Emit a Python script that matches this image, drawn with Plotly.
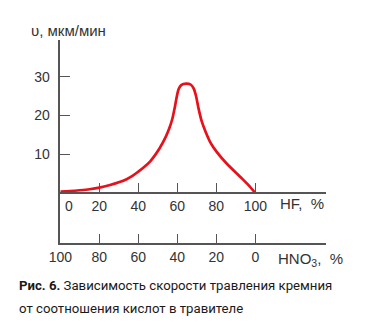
import plotly.graph_objects as go

# Curve: HF content (%) vs etch rate (um/min)
hf = [0, 5, 10, 15, 20, 25.5, 30, 34, 37, 40, 43, 46, 48.5, 51, 54, 56, 57.5, 58.8, 59.8, 60.7, 62, 64.5, 67, 68.3, 69.6, 70.8, 72.5, 74.5, 77, 80.2, 85.3, 92.2, 96.4, 100]
rate = [0.35, 0.49, 0.7, 0.97, 1.37, 2.05, 2.75, 3.55, 4.4, 5.5, 6.7, 8.1, 9.7, 11.6, 14.4, 16.8, 19.2, 22.3, 25, 26.8, 27.8, 28.2, 27.9, 27, 25, 22, 18.5, 15.8, 13, 10.6, 7.6, 4.2, 2.1, 0]

hf_ticks = [20, 40, 60, 80, 100]
hno3_ticks = [100, 80, 60, 40, 20, 0]
y_ticks = [10, 20, 30]

W, H = 372, 334
x0px, xendpx, px_per_unit_x = 60.3, 326.0, 1.95
y0px, px_per_unit_y, ytop, ybot = 193.0, 3.88, 40.0, 243.0

xr = [0, (xendpx - x0px) / px_per_unit_x]
yr = [-(ybot - y0px) / px_per_unit_y, (y0px - ytop) / px_per_unit_y]

axis_col = "#555555"
txt_col = "#333333"
tick_font = dict(family="Liberation Sans, Arial, sans-serif", size=14, color=txt_col)

fig = go.Figure()
fig.add_trace(go.Scatter(
    x=hf, y=rate, mode="lines",
    line=dict(color="#e8101a", width=2.7, shape="spline", smoothing=0.8),
    hoverinfo="skip", showlegend=False,
))

common = dict(showline=True, linecolor=axis_col, linewidth=1.5, ticks="inside",
              tickwidth=1.3, tickcolor=axis_col, tickfont=tick_font,
              showgrid=False, zeroline=False, automargin=False)

fig.update_layout(
    width=W, height=H, margin=dict(l=0, r=0, t=0, b=0),
    paper_bgcolor="white", plot_bgcolor="white",
    xaxis=dict(
        domain=[x0px / W, xendpx / W], range=xr, anchor="y", ticklen=9,
        tickvals=[100 - v for v in hno3_ticks], ticktext=[str(v) for v in hno3_ticks],
        **common,
    ),
    xaxis2=dict(
        overlaying="x", matches="x", anchor="free", position=(H - y0px) / H,
        range=xr, side="bottom", ticklen=9,
        tickvals=hf_ticks, ticktext=[str(v) for v in hf_ticks],
        **common,
    ),
    yaxis=dict(
        domain=[(H - ybot) / H, (H - ytop) / H], range=yr, anchor="x", ticklen=10,
        tickvals=y_ticks, ticktext=[str(v) for v in y_ticks], ticklabelstandoff=6,
        **common,
    ),
)
fig.add_trace(go.Scatter(x=[None], y=[None], xaxis="x2", yaxis="y", showlegend=False, hoverinfo="skip"))

label_font = dict(family="Liberation Sans, Arial, sans-serif", size=15, color=txt_col)
annots = [
    dict(text="0", x=0, y=0, xref="x", yref="y", xshift=9, yshift=-3, yanchor="top", xanchor="center", font=tick_font),
    dict(text="HF,&nbsp;&nbsp;%", x=278 / W, y=(H - 203) / H, xref="paper", yref="paper", xanchor="left", yanchor="middle", font=label_font),
    dict(text="HNO<sub>3</sub>,&nbsp;&nbsp;%", x=276 / W, y=(H - 259) / H, xref="paper", yref="paper", xanchor="left", yanchor="middle", font=label_font),
    dict(text="υ, мкм/мин", x=29 / W, y=(H - 30) / H, xref="paper", yref="paper", xanchor="left", yanchor="middle", font=label_font),
]
for a in annots:
    a.update(showarrow=False)
    fig.add_annotation(**a)

cap_font = dict(family="Roboto, sans-serif", size=13.2, color="#1a1a1a")
fig.add_annotation(text="<b>Рис. 6.</b> Зависимость скорости травления кремния", x=17 / W, y=(H - 285) / H,
                   xref="paper", yref="paper", xanchor="left", yanchor="middle", showarrow=False, font=cap_font)
fig.add_annotation(text="от соотношения кислот в травителе", x=17 / W, y=(H - 308) / H,
                   xref="paper", yref="paper", xanchor="left", yanchor="middle", showarrow=False, font=cap_font)

fig.write_html("out.html", config={"displayModeBar": False})
